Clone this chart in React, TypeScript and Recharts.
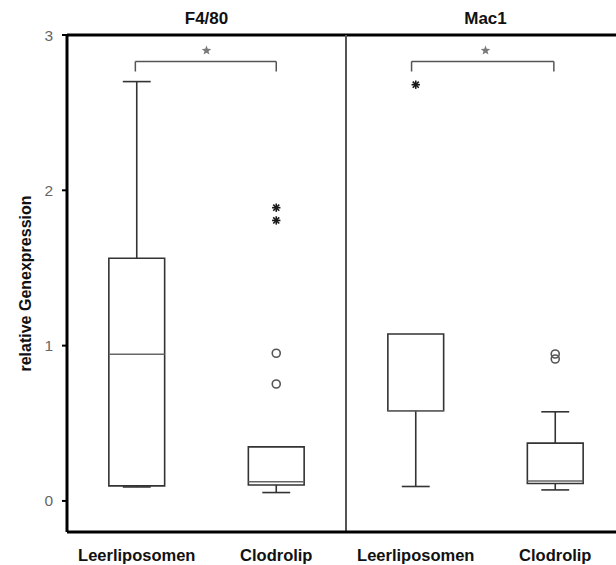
import React from 'react';
import { ComposedChart, XAxis, YAxis, ReferenceArea, ReferenceLine, Scatter, Label } from 'recharts';

// Panels (markers) and their centres on the shared x scale
const panels = ['F4/80', 'Mac1'];
const panelCenters = [1, 3];

// Groups, one box each
const groups = ['Leerliposomen', 'Clodrolip', 'Leerliposomen', 'Clodrolip'];
const groupPositions = [0.5, 1.5, 2.5, 3.5];

// Box statistics per group
const whiskerLow = [0.09, 0.054, 0.093, 0.071];
const quartile1 = [0.097, 0.103, 0.581, 0.112];
const medians = [0.944, 0.123, 0.581, 0.129];
const quartile3 = [1.563, 0.348, 1.075, 0.372];
const whiskerHigh = [2.7, 0.348, 1.075, 0.574];

// Outliers (circles) and extreme values (asterisks)
const outlierPoints = [
  { x: 1.5, y: 0.951 },
  { x: 1.5, y: 0.753 },
  { x: 3.5, y: 0.946 },
  { x: 3.5, y: 0.914 },
];
const extremePoints = [
  { x: 1.5, y: 1.888 },
  { x: 1.5, y: 1.806 },
  { x: 2.5, y: 2.68 },
];

// Significance brackets
const bracketFrom = [0.49, 2.47];
const bracketTo = [1.5, 3.49];
const bracketLevel = [2.83, 2.83];
const bracketDrop = [2.765, 2.765];
const significanceMarks = [
  { x: 1.0, y: 2.9 },
  { x: 3.0, y: 2.9 },
];

const yTicks = [0, 1, 2, 3];

const FONT = '"Liberation Sans", Arial, Helvetica, sans-serif';
const BOX_HALF = 0.2;
const CAP_HALF = 0.1;
const BOX_STROKE = '#333';

const CircleMark = (props: any) => {
  const { cx, cy } = props;
  return <circle cx={cx} cy={cy} r={4} fill="none" stroke="#555" strokeWidth={1.6} />;
};

const AsteriskMark = (props: any) => {
  const { cx, cy } = props;
  const r = 4.2;
  const d = r * 0.72;
  return (
    <g stroke="#1a1a1a" strokeWidth={1.6}>
      <line x1={cx - r} y1={cy} x2={cx + r} y2={cy} />
      <line x1={cx} y1={cy - r} x2={cx} y2={cy + r} />
      <line x1={cx - d} y1={cy - d} x2={cx + d} y2={cy + d} />
      <line x1={cx - d} y1={cy + d} x2={cx + d} y2={cy - d} />
    </g>
  );
};

const StarMark = (props: any) => {
  const { cx, cy } = props;
  const outer = 5;
  const inner = 2.1;
  const pts: string[] = [];
  for (let k = 0; k < 10; k++) {
    const rad = k % 2 === 0 ? outer : inner;
    const a = -Math.PI / 2 + (k * Math.PI) / 5;
    pts.push(`${cx + rad * Math.cos(a)},${cy + rad * Math.sin(a)}`);
  }
  return <polygon points={pts.join(' ')} fill="#7a7a7a" />;
};

const YTitle = (props: any) => {
  const { viewBox } = props;
  const cx = viewBox.x + 25;
  const cy = viewBox.y + viewBox.height / 2;
  return (
    <text
      x={cx}
      y={cy}
      transform={`rotate(-90 ${cx} ${cy})`}
      textAnchor="middle"
      dominantBaseline="central"
      fontFamily={FONT}
      fontWeight="bold"
      fontSize={16}
      fill="#111"
    >
      relative Genexpression
    </text>
  );
};

const boxElements = groupPositions.flatMap((x, i) => {
  const els: React.ReactElement[] = [];
  const line = { stroke: BOX_STROKE, strokeWidth: 1.6 };
  if (whiskerLow[i] < quartile1[i]) {
    els.push(
      <ReferenceLine key={`wl${i}`} segment={[{ x, y: whiskerLow[i] }, { x, y: quartile1[i] }]} {...line} />,
      <ReferenceLine key={`cl${i}`} segment={[{ x: x - CAP_HALF, y: whiskerLow[i] }, { x: x + CAP_HALF, y: whiskerLow[i] }]} {...line} />
    );
  }
  if (whiskerHigh[i] > quartile3[i]) {
    els.push(
      <ReferenceLine key={`wh${i}`} segment={[{ x, y: quartile3[i] }, { x, y: whiskerHigh[i] }]} {...line} />,
      <ReferenceLine key={`ch${i}`} segment={[{ x: x - CAP_HALF, y: whiskerHigh[i] }, { x: x + CAP_HALF, y: whiskerHigh[i] }]} {...line} />
    );
  }
  els.push(
    <ReferenceArea
      key={`box${i}`}
      x1={x - BOX_HALF}
      x2={x + BOX_HALF}
      y1={quartile1[i]}
      y2={quartile3[i]}
      fill="#fff"
      fillOpacity={0}
      stroke={BOX_STROKE}
      strokeWidth={1.6}
    />,
    <ReferenceLine
      key={`md${i}`}
      segment={[{ x: x - BOX_HALF, y: medians[i] }, { x: x + BOX_HALF, y: medians[i] }]}
      stroke="#666"
      strokeWidth={1.5}
    />
  );
  return els;
});

const bracketElements = bracketFrom.flatMap((x0, i) => {
  const x1 = bracketTo[i];
  const s = { stroke: '#555', strokeWidth: 1.5 };
  return [
    <ReferenceLine key={`bh${i}`} segment={[{ x: x0, y: bracketLevel[i] }, { x: x1, y: bracketLevel[i] }]} {...s} />,
    <ReferenceLine key={`bl${i}`} segment={[{ x: x0, y: bracketDrop[i] }, { x: x0, y: bracketLevel[i] }]} {...s} />,
    <ReferenceLine key={`br${i}`} segment={[{ x: x1, y: bracketDrop[i] }, { x: x1, y: bracketLevel[i] }]} {...s} />,
  ];
});

export default function App() {
  return (
    <div
      style={{
        position: 'absolute',
        left: 0,
        top: 0,
        width: 616,
        height: 565,
        overflow: 'hidden',
        background: '#fff',
      }}
    >
      <ComposedChart width={640} height={565} margin={{ top: 0, right: 15, bottom: 0, left: 0 }}>
        <XAxis
          xAxisId="top"
          orientation="top"
          dataKey="x"
          type="number"
          domain={[0, 4]}
          ticks={panelCenters}
          tickFormatter={(v: number) => panels[panelCenters.indexOf(v)]}
          height={35}
          axisLine={false}
          tickLine={false}
          tickSize={0}
          tickMargin={11}
          tick={{ fill: '#111', fontSize: 17, fontWeight: 'bold', fontFamily: FONT }}
          interval={0}
          allowDataOverflow
        />
        <XAxis
          dataKey="x"
          type="number"
          domain={[0, 4]}
          ticks={groupPositions}
          tickFormatter={(v: number) => groups[groupPositions.indexOf(v)]}
          height={33}
          axisLine={{ stroke: '#000', strokeWidth: 3 }}
          tickLine={false}
          tickSize={0}
          tickMargin={17}
          tick={{ fill: '#111', fontSize: 16.5, fontWeight: 'bold', fontFamily: FONT }}
          interval={0}
          allowDataOverflow
        />
        <YAxis
          dataKey="y"
          type="number"
          domain={[-0.2, 3]}
          ticks={yTicks}
          width={67}
          axisLine={{ stroke: '#000', strokeWidth: 3 }}
          tickLine={{ stroke: '#000', strokeWidth: 2 }}
          tickSize={5}
          tickMargin={9}
          tick={{ fill: '#666', fontSize: 15.5, fontFamily: FONT }}
          interval={0}
          allowDataOverflow
        >
          <Label content={YTitle} />
        </YAxis>

        <ReferenceLine y={3} stroke="#000" strokeWidth={3} />
        <ReferenceLine x={2} stroke="#555" strokeWidth={2} />

        {boxElements}
        {bracketElements}

        <Scatter data={outlierPoints} dataKey="y" shape={CircleMark} isAnimationActive={false} />
        <Scatter data={extremePoints} dataKey="y" shape={AsteriskMark} isAnimationActive={false} />
        <Scatter data={significanceMarks} dataKey="y" shape={StarMark} isAnimationActive={false} />
      </ComposedChart>
    </div>
  );
}
